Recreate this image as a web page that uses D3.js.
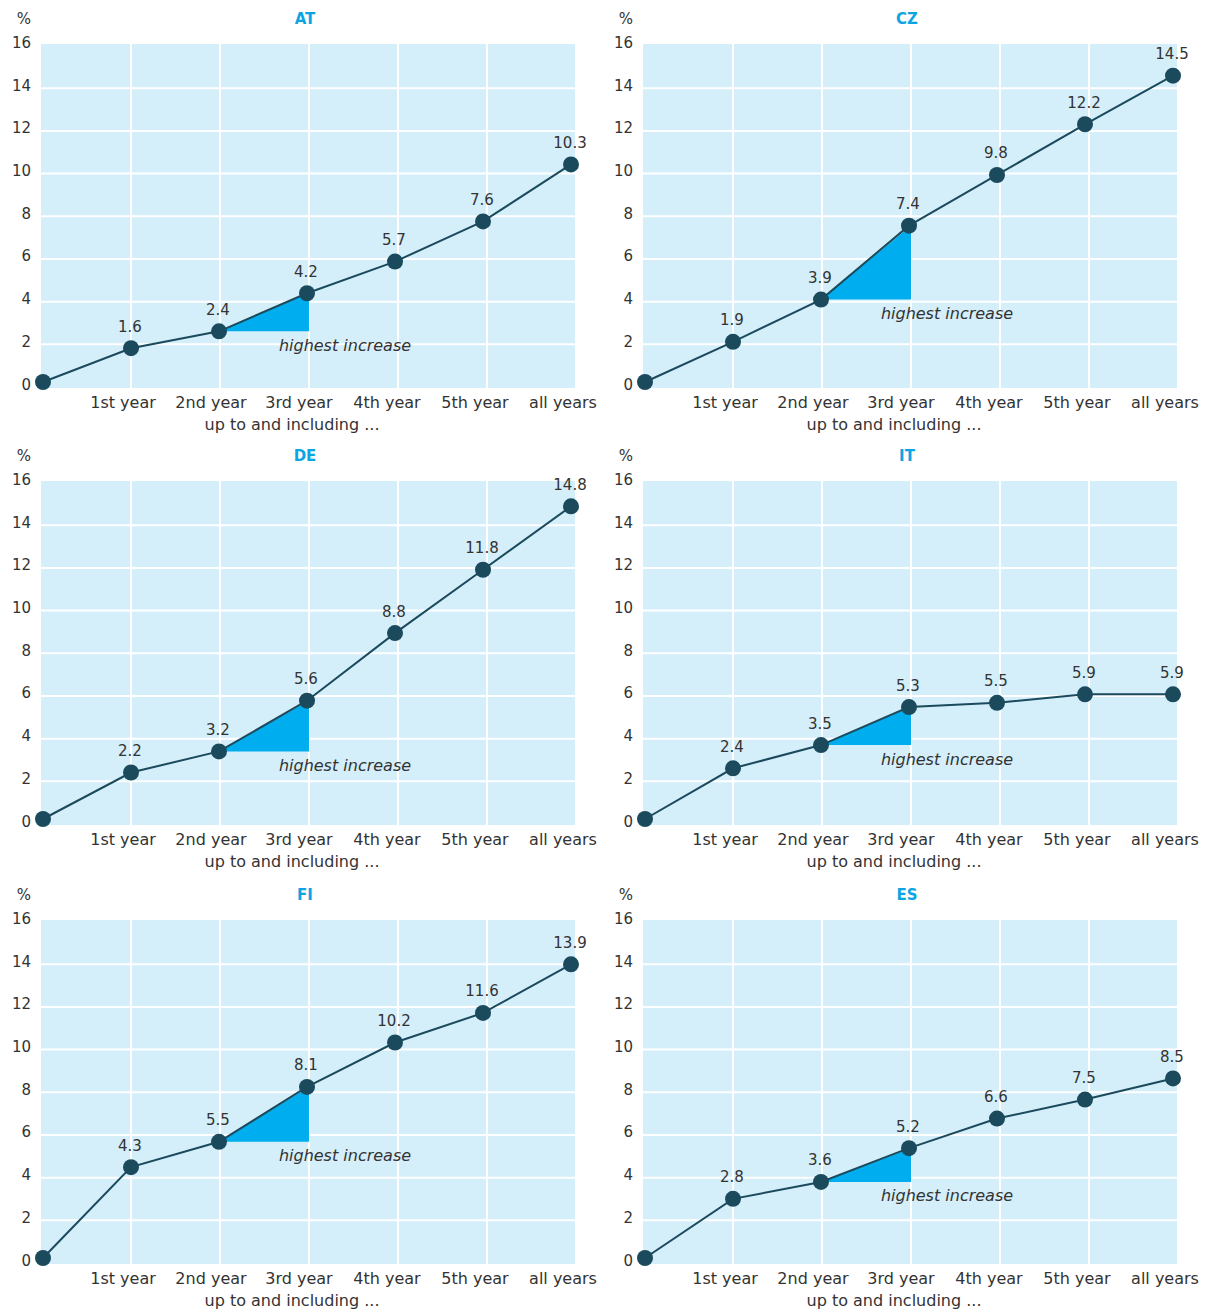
<!DOCTYPE html>
<html><head><meta charset="utf-8">
<script src="https://cdn.jsdelivr.net/npm/d3@7"></script>
<style>body{margin:0;background:#fff;} svg{display:block;}</style>
</head><body>
<svg id="chart" width="1206" height="1312"></svg>
<script>
const countries = ["AT", "CZ", "DE", "IT", "FI", "ES"];
const categories = ["", "1st year", "2nd year", "3rd year", "4th year", "5th year", "all years"];
const valuesAT = [0, 1.6, 2.4, 4.2, 5.7, 7.6, 10.3];
const valuesCZ = [0, 1.9, 3.9, 7.4, 9.8, 12.2, 14.5];
const valuesDE = [0, 2.2, 3.2, 5.6, 8.8, 11.8, 14.8];
const valuesIT = [0, 2.4, 3.5, 5.3, 5.5, 5.9, 5.9];
const valuesFI = [0, 4.3, 5.5, 8.1, 10.2, 11.6, 13.9];
const valuesES = [0, 2.8, 3.6, 5.2, 6.6, 7.5, 8.5];
const yTicks = [0, 2, 4, 6, 8, 10, 12, 14, 16];
const highlightFrom = 2, highlightTo = 3;
const highlightLabel = "highest increase";
const xTitle = "up to and including ...";
const yUnit = "%";

const seriesList = [valuesAT, valuesCZ, valuesDE, valuesIT, valuesFI, valuesES];
const FONT = "DejaVu Sans, sans-serif";
const svg = d3.select("#chart");

const colX = [0, 602], rowY = [0, 437, 876];
const plotL = 41, plotR = 575, plotT = 44, plotB = 388;

countries.forEach((c, i) => {
  const vals = seriesList[i];
  const g = svg.append("g").attr("transform", `translate(${colX[i % 2]},${rowY[Math.floor(i / 2)]})`);
  const x = d3.scaleLinear().domain([0, 6]).range([43, 571]);
  const xGrid = d3.scaleLinear().domain([0, 6]).range([42, 576]);
  const y = d3.scaleLinear().domain([0, 16]).range([382, 44]);
  const yGrid = d3.scaleLinear().domain([0, 16]).range([387, 45.5]);

  g.append("rect").attr("x", plotL).attr("y", plotT).attr("width", plotR - plotL).attr("height", plotB - plotT).attr("fill", "#d4eefa");
  g.selectAll(".hg").data(yTicks.filter(t => t > 0 && t < 16)).join("line")
    .attr("x1", plotL).attr("x2", plotR).attr("y1", d => yGrid(d)).attr("y2", d => yGrid(d))
    .attr("stroke", "#fff").attr("stroke-width", 2);
  g.selectAll(".vg").data(d3.range(1, 6)).join("line")
    .attr("x1", d => xGrid(d)).attr("x2", d => xGrid(d)).attr("y1", plotT).attr("y2", plotB)
    .attr("stroke", "#fff").attr("stroke-width", 2);

  g.selectAll(".yl").data(yTicks).join("text")
    .attr("x", 31).attr("y", d => yGrid(d) - 2).attr("text-anchor", "end").attr("dominant-baseline", "middle")
    .attr("font-family", FONT).attr("font-size", 15).attr("fill", "#333").text(d => d);
  g.append("text").attr("x", 31).attr("y", 19).attr("text-anchor", "end").attr("dominant-baseline", "middle")
    .attr("font-family", FONT).attr("font-size", 15).attr("fill", "#333").text(yUnit);
  g.append("text").attr("x", 305).attr("y", 19).attr("text-anchor", "middle").attr("dominant-baseline", "middle")
    .attr("font-family", FONT).attr("font-size", 15).attr("font-weight", "bold").attr("fill", "#0aa5e2").text(c);

  g.selectAll(".xl").data(categories.map((t, k) => [t, k]).filter(d => d[0])).join("text")
    .attr("x", d => x(d[1]) - 8).attr("y", 403).attr("text-anchor", "middle").attr("dominant-baseline", "middle")
    .attr("font-family", FONT).attr("font-size", 16).attr("fill", "#333").text(d => d[0]);
  g.append("text").attr("x", 292).attr("y", 425).attr("text-anchor", "middle").attr("dominant-baseline", "middle")
    .attr("font-family", FONT).attr("font-size", 16).attr("fill", "#333").text(xTitle);

  // highlight triangle
  const tri = [[x(highlightFrom), y(vals[highlightFrom])], [xGrid(highlightTo), y(vals[highlightTo])], [xGrid(highlightTo), y(vals[highlightFrom])]];
  g.append("path").attr("d", d3.line()(tri) + "Z").attr("fill", "#00aeef");
  g.append("text").attr("x", x(highlightTo) + 38).attr("y", y(vals[highlightFrom]) + 15)
    .attr("text-anchor", "middle").attr("dominant-baseline", "middle")
    .attr("font-family", FONT).attr("font-size", 16).attr("font-style", "italic").attr("fill", "#333").text(highlightLabel);

  g.append("path").datum(vals).attr("fill", "none").attr("stroke", "#1a4a5c").attr("stroke-width", 2)
    .attr("d", d3.line().x((d, k) => x(k)).y(d => y(d)));
  g.selectAll(".pt").data(vals).join("circle")
    .attr("cx", (d, k) => x(k)).attr("cy", d => y(d)).attr("r", 8).attr("fill", "#1a4a5c");
  g.selectAll(".vl").data(vals.map((v, k) => [v, k]).filter(d => d[1] > 0)).join("text")
    .attr("x", d => x(d[1]) - 1).attr("y", d => y(d[0]) - 21).attr("text-anchor", "middle").attr("dominant-baseline", "middle")
    .attr("font-family", FONT).attr("font-size", 15).attr("fill", "#333").text(d => d[0].toFixed(1));
});
</script>
</body></html>
